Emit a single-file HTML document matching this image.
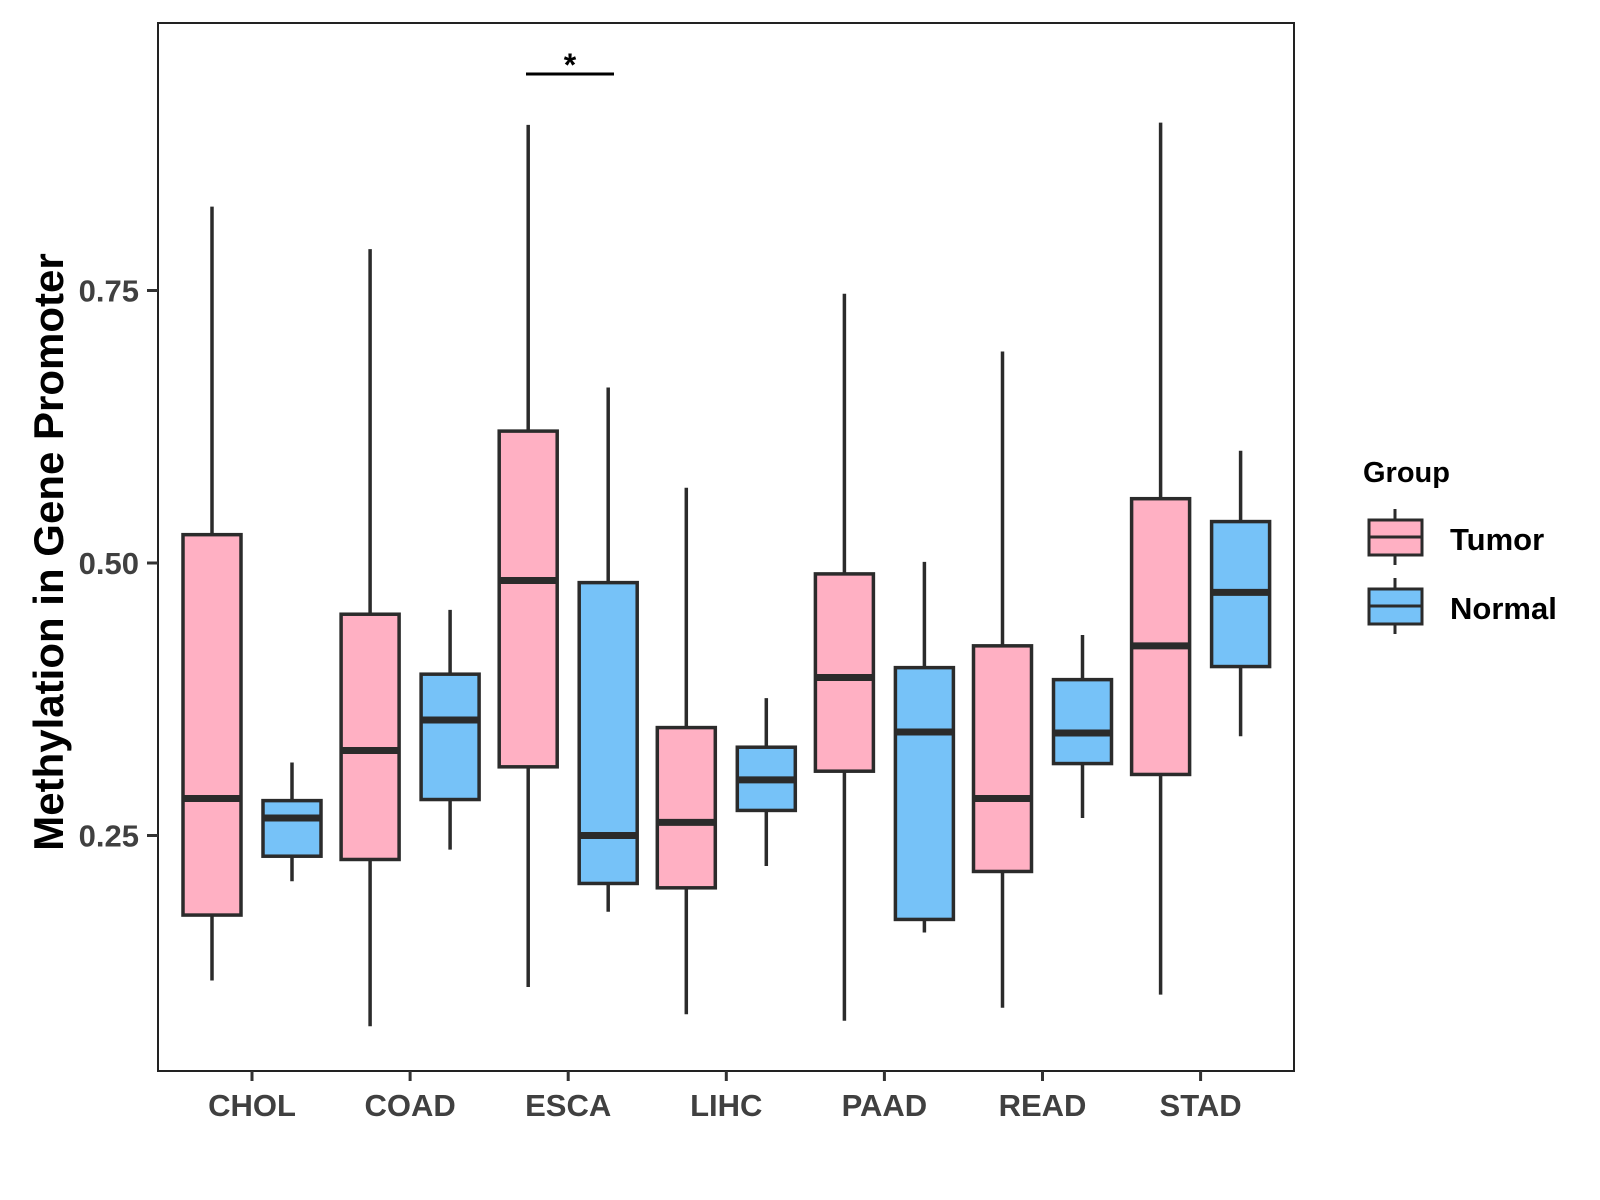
<!DOCTYPE html>
<html><head><meta charset="utf-8"><style>
html,body{margin:0;padding:0;background:#fff;}
svg{display:block;font-family:"Liberation Sans",Arial,sans-serif;font-weight:bold;}
</style></head><body>
<svg id="chart" width="1600" height="1200" viewBox="0 0 1600 1200">
<rect x="0" y="0" width="1600" height="1200" fill="#fff"/>
<g id="plot"></g>
<rect x="158" y="23" width="1136" height="1048" fill="none" stroke="#222" stroke-width="2"/>
<g id="axes"></g>
<text x="52" y="552" transform="rotate(-90 52 552)" text-anchor="middle" font-size="42" fill="#000" dominant-baseline="middle">Methylation in Gene Promoter</text>
<g>
<text x="1363" y="482" font-size="29" fill="#000">Group</text>
<g>
<line x1="1395" y1="509" x2="1395" y2="565" stroke="#2b2b2b" stroke-width="3"/>
<rect x="1369" y="520" width="53" height="35" fill="#FFB0C3" stroke="#2b2b2b" stroke-width="3"/>
<line x1="1369" y1="537" x2="1422" y2="537" stroke="#2b2b2b" stroke-width="3"/>
<text x="1450" y="550" font-size="31" fill="#000">Tumor</text>
</g>
<g>
<line x1="1395" y1="578" x2="1395" y2="634" stroke="#2b2b2b" stroke-width="3"/>
<rect x="1369" y="589" width="53" height="35" fill="#76C2F8" stroke="#2b2b2b" stroke-width="3"/>
<line x1="1369" y1="606" x2="1422" y2="606" stroke="#2b2b2b" stroke-width="3"/>
<text x="1450" y="619" font-size="31" fill="#000">Normal</text>
</g>
</g>
<g>
<line x1="526" y1="74" x2="614" y2="74" stroke="#000" stroke-width="3"/>
<text x="570" y="76" text-anchor="middle" font-size="32" fill="#000">*</text>
</g>
</svg>
<script>
const categories = ["CHOL","COAD","ESCA","LIHC","PAAD","READ","STAD"];
// [whiskerLow, Q1, median, Q3, whiskerHigh]
const tumorStats = [
 [0.117,0.177,0.284,0.526,0.827],
 [0.075,0.228,0.328,0.453,0.788],
 [0.111,0.313,0.484,0.621,0.902],
 [0.086,0.202,0.262,0.349,0.569],
 [0.080,0.309,0.395,0.490,0.747],
 [0.092,0.217,0.284,0.424,0.694],
 [0.104,0.306,0.424,0.559,0.904]
];
const normalStats = [
 [0.208,0.231,0.266,0.282,0.317],
 [0.237,0.283,0.356,0.398,0.457],
 [0.180,0.206,0.250,0.482,0.661],
 [0.222,0.273,0.301,0.331,0.376],
 [0.161,0.173,0.345,0.404,0.501],
 [0.266,0.316,0.344,0.393,0.434],
 [0.341,0.405,0.473,0.538,0.603]
];
const yTicks = [0.25,0.50,0.75];
const yTickLabels = ["0.25","0.50","0.75"];

const NS = "http://www.w3.org/2000/svg";
function yScale(v){ return 563 - (v-0.5)*1090; }
function xScale(i){ return 252 + i*158.1; }
function mk(tag, attrs, parent){
  const e = document.createElementNS(NS, tag);
  for (const k in attrs) e.setAttribute(k, attrs[k]);
  parent.appendChild(e); return e;
}
const plot = document.getElementById('plot');
const axes = document.getElementById('axes');
function drawBox(s, cx, fill, name){
  const g = mk('g', {}, plot);
  
  
  const hw = 29;
  mk('line', {x1:cx, x2:cx, y1:yScale(s[4]), y2:yScale(s[0]), stroke:'#2b2b2b','stroke-width':3.5}, g);
  mk('rect', {x:cx-hw, y:yScale(s[3]), width:hw*2, height:yScale(s[1])-yScale(s[3]), fill:fill, stroke:'#2b2b2b','stroke-width':3.5}, g);
  mk('line', {x1:cx-hw, x2:cx+hw, y1:yScale(s[2]), y2:yScale(s[2]), stroke:'#2b2b2b','stroke-width':7}, g);
}
categories.forEach((c,i)=>{
  const cx = xScale(i);
  drawBox(tumorStats[i], cx-40, '#FFB0C3', 'box-tumor-'+c.toLowerCase());
  drawBox(normalStats[i], cx+40, '#76C2F8', 'box-normal-'+c.toLowerCase());
  const t = mk('line', {x1:cx, x2:cx, y1:1071, y2:1081, stroke:'#333','stroke-width':3}, axes);
  
  
  const l = mk('text', {x:cx, y:1116, 'text-anchor':'middle','font-size':31, fill:'#404040'}, axes);
  l.textContent = c;
  
  
});
yTicks.forEach((v,i)=>{
  const y = yScale(v);
  const t = mk('line', {x1:147, x2:158, y1:y, y2:y, stroke:'#333','stroke-width':3}, axes);
  
  
  const l = mk('text', {x:139, y:y+11, 'text-anchor':'end','font-size':31, fill:'#404040'}, axes);
  l.textContent = yTickLabels[i];
  
  
});
</script>
</body></html>
